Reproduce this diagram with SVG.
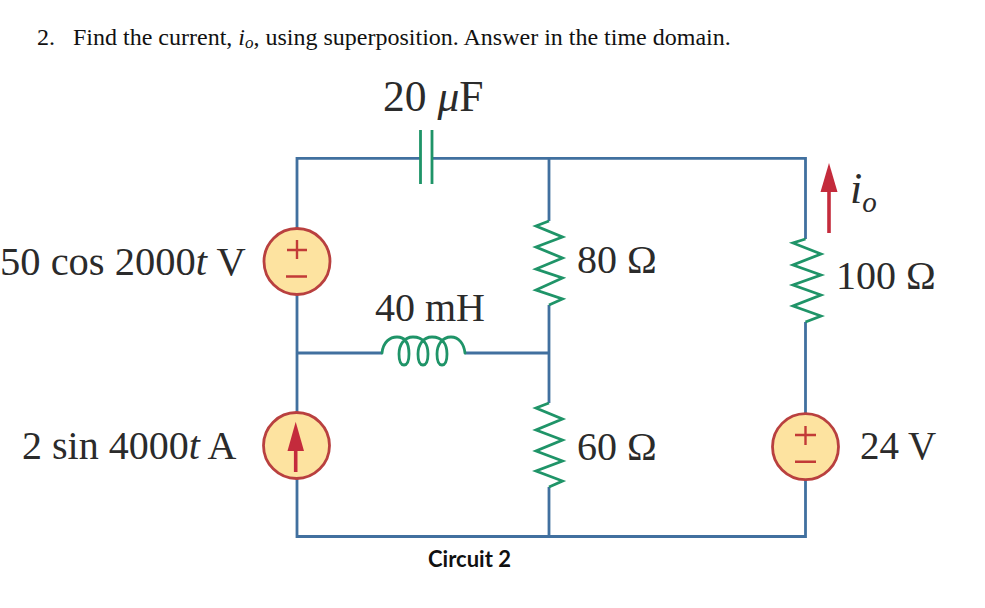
<svg xmlns="http://www.w3.org/2000/svg" width="985" height="608" viewBox="0 0 985 608">
<style>
.wire{fill:none;stroke:#41709f;stroke-width:2.8}
.el{fill:none;stroke:#1f9468;stroke-width:2.8}
.src{fill:#fde3a0;stroke:#b9403f;stroke-width:2.8}
.pol{stroke:#c23b37;stroke-width:2.4;fill:none}
.red{fill:#c42b3c;stroke:none}
.redl{stroke:#c42b3c;stroke-width:3.6;fill:none}
.val{font-family:"Liberation Serif",serif;font-size:40px;fill:#2b2b2b}
.q{font-family:"Liberation Serif",serif;font-size:24px;fill:#111}
.cap{font-family:"Lato","Liberation Sans",sans-serif;font-size:22px;font-weight:bold;fill:#111}
</style>
<rect width="985" height="608" fill="#fff"/>
<text class="q" x="37" y="45">2.</text>
<text class="q" x="73" y="45">Find the current, <tspan font-style="italic">i</tspan><tspan font-style="italic" font-size="17" dy="3">o</tspan><tspan dy="-3">, using superposition. Answer in the time domain.</tspan></text>
<g id="connectors">
<path class="wire" d="M420.500 158.300H297V228M297 295V412M297 478V536.500H805.500V480M432 158.300H805.500V239M805.500 322V414M549 158.300V221M549 305V403M549 487V536.500M297 353H382M465 353H549"/>
</g>
<g id="capacitor">
<path class="el" d="M420.500 130V184M432 130V184"/>
<text class="val" x="383" y="111" style="font-size:43.500px">20 <tspan font-style="italic">μ</tspan>F</text>
</g>
<g id="source-v1">
<circle class="src" cx="297" cy="261.500" r="33"/>
<path class="pol" d="M297 240V259M287 250H307M286 276.500H307"/>
<text class="val" x="0" y="275" style="font-size:40.500px">50 cos 2000<tspan font-style="italic">t</tspan> V</text>
</g>
<g id="source-i1">
<circle class="src" cx="296.500" cy="445.500" r="33"/>
<path class="red" d="M295.700 421.700L304 451H287.500Z"/>
<path class="redl" d="M295.700 449V472"/>
<text class="val" x="22" y="459">2 sin 4000<tspan font-style="italic">t</tspan> A</text>
</g>
<g id="source-v2">
<circle class="src" cx="805.500" cy="446.700" r="33"/>
<path class="pol" d="M805.500 426V445M795 435H816M795 461.700H816"/>
<text class="val" x="860" y="459" style="font-size:39px">24 V</text>
</g>
<g id="inductor">
<path class="el" stroke-linecap="round" d="M382 353C383 342 390 337 397 337C406 337 409 345 409 354C409 361 407 365 404 365C401 365 399 361 399 354C399 345 404 337 413 337C424 337 428 345 428 354C428 361 426 365 423 365C420 365 418 361 418 354C418 345 423 337 432 337C443 337 447 345 447 354C447 361 445 365 442 365C439 365 437 361 437 354C437 345 442 337 451 337C459 337 464 344 465 353"/>
<text class="val" x="375" y="321">40 mH</text>
</g>
<g id="resistor-80">
<path class="el" d="M549 221L536 226L562.500 237L536 247L562.500 258L536 269L562.500 278L536 290L562.500 299L549 305"/>
<text class="val" x="577" y="273">80 Ω</text>
</g>
<g id="resistor-60">
<path class="el" d="M549 403L536 408L562.500 419L536 430L562.500 440L536 451L562.500 461L536 471L562.500 481L549 487"/>
<text class="val" x="577" y="460">60 Ω</text>
</g>
<g id="resistor-100">
<path class="el" d="M805.500 239L793 243L821 254L793 265L821 275L793 285L821 295L793 306L821 316L805.500 322"/>
<text class="val" x="836" y="289">100 Ω</text>
</g>
<g id="current-io">
<path class="red" d="M829 163L837.500 192H820.500Z"/>
<path class="redl" d="M829 190V233"/>
<text class="val" x="850" y="203" font-style="italic" style="font-size:44px">i<tspan font-size="29" dy="9">o</tspan></text>
</g>
<text class="cap" x="428" y="567">Circuit 2</text>
</svg>
